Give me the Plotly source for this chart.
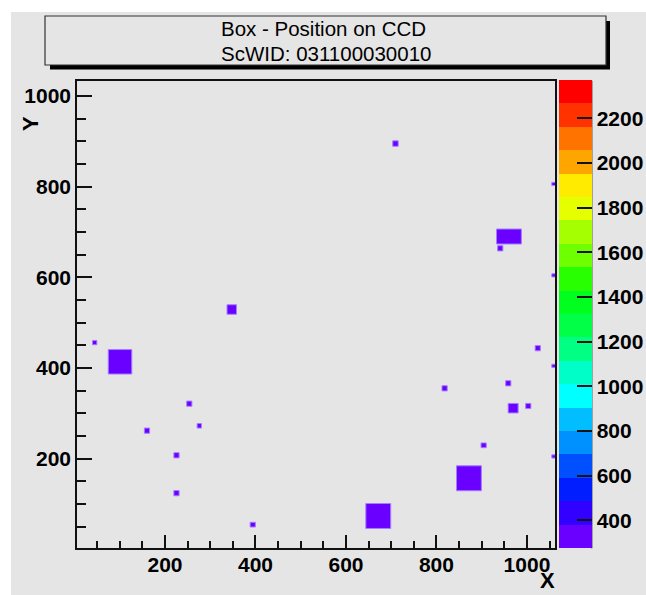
import plotly.graph_objects as go

# ---- data: box positions and extents on the CCD (detector units) ----
box_x = [347.6, 44.6, 100.6, 253.7, 275.8, 160.2, 225.4, 225.4, 394.0,
         1023.9, 1060.0, 818.0, 958.7, 969.5, 1002.9, 904.3, 1060.0,
         871.8, 671.4, 709.4, 1060.0, 960.2, 941.0, 1060.0]
box_y = [529.0, 456.0, 413.7, 321.3, 272.5, 261.8, 207.5, 124.0, 54.5,
         443.7, 404.8, 355.2, 366.3, 311.4, 316.2, 229.5, 204.9,
         156.8, 73.6, 895.0, 806.0, 690.0, 664.0, 604.4]
box_w = [21.0, 9.5, 52.0, 11.5, 9.5, 11.5, 11.5, 11.5, 11.5,
         11.5, 10.0, 11.5, 11.5, 22.0, 11.5, 11.5, 10.0,
         55.0, 55.0, 12.0, 10.0, 55.0, 11.5, 10.0]
box_h = [21.0, 9.5, 54.0, 11.5, 10.0, 11.5, 11.5, 11.5, 10.5,
         11.5, 7.0, 11.5, 11.5, 21.0, 11.5, 10.5, 7.0,
         55.0, 55.0, 12.0, 7.0, 33.0, 11.5, 7.0]

# z-axis (palette) range and ticks
Z_MIN, Z_MAX = 273.0, 2370.0
z_ticks = [400, 600, 800, 1000, 1200, 1400, 1600, 1800, 2000, 2200]
x_ticks = [200, 400, 600, 800, 1000]
y_ticks = [200, 400, 600, 800, 1000]

title_lines = ["Box - Position on CCD", "ScWID: 031100030010"]

# ---- 20-level rainbow palette, low -> high ----
palette = ["#6a00ff", "#3200ff", "#001eff", "#0050ff", "#0091ff",
           "#00beff", "#00ffff", "#00ffc8", "#00ff82", "#00ff46",
           "#00ff1e", "#28ff00", "#6eff00", "#a5ff00", "#e6ff00",
           "#ffeb00", "#ffa500", "#ff7300", "#ff3200", "#ff0000"]
n_lev = len(palette)
colorscale = []
for i, c in enumerate(palette):
    colorscale.append([i / n_lev, c])
    colorscale.append([(i + 1) / n_lev, c])

# ---- page geometry (pixels) ----
W, H = 646, 595
PL, PR, PT, PB = 77, 555, 81, 548
BG = "#e5e5e5"
FONT = "Liberation Sans"


def px_x(px):
    return (px - PL) / (PR - PL)


def px_y(py):
    return (PB - py) / (PB - PT)


# rectangles for every box, separated by gaps
rx, ry = [], []
for cx, cy, w, h in zip(box_x, box_y, box_w, box_h):
    x0, x1 = cx - w / 2, cx + w / 2
    y0, y1 = cy - h / 2, cy + h / 2
    rx += [x0, x1, x1, x0, x0, None]
    ry += [y0, y0, y1, y1, y0, None]

fig = go.Figure()
fig.add_trace(go.Scatter(
    x=rx, y=ry, mode="lines", fill="toself",
    fillcolor=palette[0],
    line=dict(color="rgba(165,125,255,1)", width=1),
    hoverinfo="skip", showlegend=False,
))

# palette scale attached to the box centres
fig.add_trace(go.Scatter(
    x=box_x, y=box_y, mode="markers",
    marker=dict(
        size=1, opacity=0,
        color=[Z_MIN] * len(box_x),
        cmin=Z_MIN, cmax=Z_MAX,
        colorscale=colorscale,
        showscale=True,
        colorbar=dict(
            x=px_x(558.7), xanchor="left", xpad=0,
            y=px_y(314.5), yanchor="middle", ypad=0,
            len=467.6, lenmode="pixels",
            thickness=33, thicknessmode="pixels",
            outlinewidth=0,
            tickmode="array", tickvals=z_ticks,
            ticks="inside", ticklen=15, tickwidth=1.5, tickcolor="#111",
            tickfont=dict(family=FONT, size=21, color="black", weight=700),
        ),
    ),
    hoverinfo="skip", showlegend=False,
))

axis_common = dict(
    showgrid=False, zeroline=False, automargin=False,
    showline=True, linecolor="#111", linewidth=1.5, mirror=True,
    ticks="inside", tickcolor="#111", tickwidth=1.5,
    tickfont=dict(family=FONT, size=21, color="black", weight=700),
    tickmode="array",
)

fig.update_xaxes(
    **axis_common, range=[5.5, 1062], tickvals=x_ticks, ticklen=13,
    ticklabelstandoff=-3,
    minor=dict(tickmode="linear", tick0=0, dtick=50, ticks="inside",
               ticklen=7, tickcolor="#111", tickwidth=1.5),
)
fig.update_yaxes(
    **axis_common, range=[3, 1033], tickvals=y_ticks, ticklen=15.5,
    minor=dict(tickmode="linear", tick0=0, dtick=50, ticks="inside",
               ticklen=9, tickcolor="#111", tickwidth=1.5),
)

shapes = [
    # white page strips outside the canvas
    dict(type="rect", xref="paper", yref="paper", x0=px_x(0), x1=px_x(11),
         y0=px_y(0), y1=px_y(H), fillcolor="white", line_width=0, layer="below"),
    dict(type="rect", xref="paper", yref="paper", x0=px_x(0), x1=px_x(W),
         y0=px_y(0), y1=px_y(12), fillcolor="white", line_width=0, layer="below"),
    # title pave: shadow then frame
    dict(type="rect", xref="paper", yref="paper", x0=px_x(50), x1=px_x(610),
         y0=px_y(69.5), y1=px_y(21), fillcolor="black", line_width=0),
    dict(type="rect", xref="paper", yref="paper", x0=px_x(45), x1=px_x(606),
         y0=px_y(65), y1=px_y(16), fillcolor=BG,
         line=dict(color="#333", width=1.2)),
    # palette axis line
    dict(type="line", xref="paper", yref="paper", x0=px_x(591.7), x1=px_x(591.7),
         y0=px_y(80.7), y1=px_y(548.3), line=dict(color="#222", width=1.3)),
]

annotations = [
    dict(text=title_lines[0], xref="paper", yref="paper", x=px_x(323), y=px_y(28),
         xanchor="center", yanchor="middle", showarrow=False,
         font=dict(family=FONT, size=20.5, color="black")),
    dict(text=title_lines[1], xref="paper", yref="paper", x=px_x(325.5), y=px_y(53),
         xanchor="center", yanchor="middle", showarrow=False,
         font=dict(family=FONT, size=20.5, color="black")),
    dict(text="X", xref="paper", yref="paper", x=px_x(557), y=px_y(595),
         xanchor="right", yanchor="bottom", showarrow=False,
         font=dict(family=FONT, size=22, color="black", weight=700)),
    dict(text="Y", xref="paper", yref="paper", x=px_x(30), y=px_y(124),
         xanchor="center", yanchor="middle", showarrow=False, textangle=-90,
         font=dict(family=FONT, size=22, color="black", weight=700)),
]

fig.update_layout(
    width=W, height=H,
    margin=dict(l=PL, r=W - PR, t=PT, b=H - PB, pad=0, autoexpand=False),
    paper_bgcolor=BG, plot_bgcolor=BG,
    shapes=shapes, annotations=annotations,
    showlegend=False,
)

fig.write_html("out.html")
